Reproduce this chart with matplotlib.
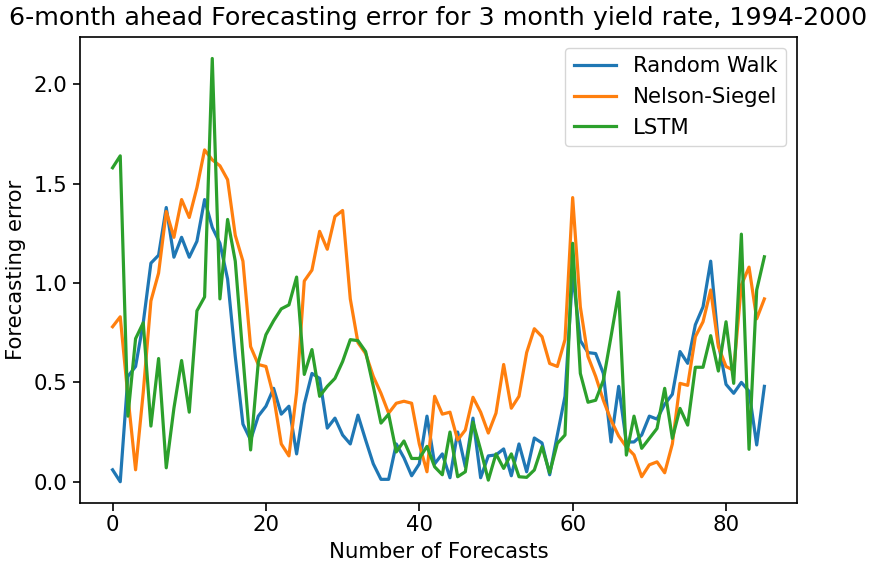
import matplotlib
matplotlib.use("Agg")
import matplotlib.pyplot as plt
import numpy as np

random_walk = [0.06, 0.00, 0.53, 0.58, 0.80, 1.10, 1.14, 1.38, 1.13, 1.23,
               1.13, 1.21, 1.42, 1.28, 1.20, 1.02, 0.63, 0.29, 0.21, 0.33,
               0.38, 0.47, 0.34, 0.38, 0.14, 0.39, 0.545, 0.52, 0.27, 0.32,
               0.235, 0.19, 0.335, 0.21, 0.09, 0.012, 0.012, 0.19, 0.12, 0.03,
               0.09, 0.33, 0.09, 0.14, 0.02, 0.25, 0.075, 0.32, 0.02, 0.13,
               0.135, 0.165, 0.03, 0.19, 0.05, 0.22, 0.195, 0.035, 0.235, 0.43,
               1.05, 0.71, 0.65, 0.645, 0.545, 0.20, 0.48, 0.20, 0.20, 0.235,
               0.33, 0.315, 0.39, 0.44, 0.655, 0.596, 0.79, 0.88, 1.11, 0.70,
               0.49, 0.445, 0.50, 0.455, 0.185, 0.48]

nelson_siegel = [0.78, 0.83, 0.43, 0.06, 0.45, 0.91, 1.05, 1.36, 1.23, 1.42,
                 1.33, 1.48, 1.67, 1.62, 1.59, 1.52, 1.24, 1.11, 0.68, 0.59,
                 0.58, 0.43, 0.19, 0.13, 0.45, 1.01, 1.065, 1.26, 1.17, 1.335,
                 1.365, 0.92, 0.70, 0.645, 0.53, 0.445, 0.345, 0.395, 0.405, 0.395,
                 0.19, 0.05, 0.43, 0.34, 0.35, 0.21, 0.26, 0.425, 0.35, 0.245,
                 0.345, 0.59, 0.37, 0.43, 0.65, 0.77, 0.73, 0.595, 0.58, 0.715,
                 1.43, 0.88, 0.63, 0.53, 0.41, 0.31, 0.23, 0.175, 0.135, 0.025,
                 0.085, 0.10, 0.045, 0.19, 0.495, 0.485, 0.73, 0.805, 0.965, 0.68,
                 0.58, 0.56, 0.99, 1.08, 0.82, 0.92]

lstm = [1.58, 1.64, 0.33, 0.72, 0.80, 0.28, 0.62, 0.07, 0.37, 0.61,
        0.35, 0.86, 0.93, 2.13, 0.92, 1.32, 1.11, 0.63, 0.16, 0.60,
        0.74, 0.81, 0.87, 0.89, 1.03, 0.54, 0.665, 0.43, 0.48, 0.52,
        0.605, 0.715, 0.71, 0.655, 0.48, 0.295, 0.34, 0.15, 0.205, 0.117,
        0.117, 0.178, 0.075, 0.035, 0.25, 0.025, 0.05, 0.30, 0.16, 0.008,
        0.14, 0.067, 0.14, 0.025, 0.022, 0.059, 0.176, 0.045, 0.193, 0.235,
        1.20, 0.545, 0.40, 0.41, 0.51, 0.73, 0.955, 0.134, 0.33, 0.168,
        0.218, 0.268, 0.47, 0.218, 0.369, 0.285, 0.576, 0.576, 0.735, 0.557,
        0.805, 0.495, 1.246, 0.163, 0.965, 1.132]

series_names = ["Random Walk", "Nelson-Siegel", "LSTM"]
title = "6-month ahead Forecasting error for 3 month yield rate, 1994-2000"

fig = plt.figure(figsize=(8.78, 5.69), dpi=100)
ax = fig.add_axes([0.0911, 0.1162, 0.8166, 0.8182])

x = np.arange(len(random_walk))
for vals, name in zip([random_walk, nelson_siegel, lstm], series_names):
    ax.plot(x, vals, label=name, linewidth=2.3)

ax.set_title(title, fontsize=18.3, pad=9)
ax.set_xlabel("Number of Forecasts", fontsize=15.3, labelpad=5)
ax.set_ylabel("Forecasting error", fontsize=15.3, labelpad=6)
ax.tick_params(labelsize=15.3, width=1.2, length=5.4)
for s in ax.spines.values():
    s.set_linewidth(1.2)
ax.set_yticks([0.0, 0.5, 1.0, 1.5, 2.0])
ax.legend(loc="upper right", fontsize=15.3)

fig.savefig("out.png", dpi=100)
